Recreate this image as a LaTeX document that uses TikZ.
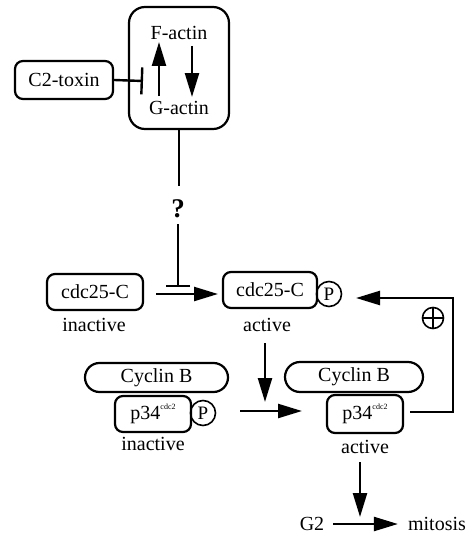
\documentclass[tikz,border=0pt]{standalone}
\usepackage{fontspec}
\setmainfont{Liberation Serif}
\usetikzlibrary{arrows.meta,shapes.misc}
\begin{document}
\begin{tikzpicture}[x=1pt,y=-1pt,
  every node/.style={font=\fontsize{20}{24}\selectfont, inner sep=0pt},
  box/.style={draw, line width=2.2pt, rounded corners=8pt},
  pill/.style={draw, line width=2.2pt, rounded rectangle},
  pcirc/.style={draw, circle, line width=1.6pt, minimum size=25pt, font=\fontsize{19}{20}\selectfont},
  conn/.style={line width=2.4pt},
  arr/.style={conn, -{Triangle[length=24pt,width=14pt]}},
  inh/.style={conn, -{Bar[width=#1]}},
]
\useasboundingbox (0,0) rectangle (472,535);
\newcommand{\pcdc}{p34\raisebox{1.1ex}{\fontsize{8}{9}\selectfont cdc2}}

% actin box
\node[box, rounded corners=16pt, minimum width=100pt, minimum height=122pt] (actin) at (179,68) {};
\node (factin) at (179,33) {F-actin};
\node (gactin) at (179,108) {G-actin};
\coordinate (ua1) at (159,96);
\coordinate (ua2) at (159,42);
\coordinate (da1) at (192,46);
\coordinate (da2) at (192,97);
\draw[arr] (ua1) -- (ua2);
\draw[arr] (da1) -- (da2);

% C2-toxin
\node[box, minimum width=98pt, minimum height=38pt] (c2) at (64,80) {C2-toxin};
\coordinate (c2bar) at (143,81);
\draw[inh=27pt] (c2.east) -- (c2bar);

% question mark
\node[font=\fontsize{27}{28}\bfseries\selectfont] (q) at (178,209) {?};
\draw[conn] (actin.south) -- ++(0,56) coordinate (qtop);
\coordinate (qs) at (178,224);
\coordinate (qbar) at (178,287);
\draw[inh=24pt] (qs) -- (qbar);

% cdc25-C
\node[box, minimum width=96pt, minimum height=36pt] (cdcin) at (95,292) {cdc25-C};
\node (cdcinl) at (94,325) {inactive};
\node[box, minimum width=94pt, minimum height=36pt] (cdcact) at (270,290) {cdc25-C};
\node[pcirc] (p1) at (329,294) {P};
\node (cdcactl) at (267,325) {active};
\coordinate (h1s) at (156,294);
\coordinate (h1e) at (218,294);
\draw[arr] (h1s) -- (h1e);

% down arrow to complex
\coordinate (v1s) at (265,343);
\coordinate (v1e) at (265,402);
\draw[arr] (v1s) -- (v1e);

% inactive complex
\node[pill, minimum width=143pt, minimum height=29pt] (cycin) at (156.5,377.5) {Cyclin B};
\node[box, minimum width=76pt, minimum height=36pt] (p34in) at (153,414) {\pcdc};
\node[pcirc] (p2) at (203,413) {P};
\node (p34inl) at (153,444) {inactive};

\coordinate (h2s) at (240,411);
\coordinate (h2e) at (302,411);
\draw[arr] (h2s) -- (h2e);

% active complex
\node[pill, minimum width=138pt, minimum height=30pt] (cycact) at (354,377) {Cyclin B};
\node[box, minimum width=76pt, minimum height=38pt] (p34act) at (365,414) {\pcdc};
\node (p34actl) at (365,447) {active};

% feedback
\coordinate (fb1) at (410,412);
\coordinate (fbc) at (453,298);
\coordinate (fb2) at (356,298);
\draw[arr] (fb1) -| (fbc) -- (fb2);
\node[draw, circle, line width=1.6pt, minimum size=21pt] (plus) at (433,318) {};
\draw[line width=1.6pt] (plus.north) -- (plus.south) (plus.west) -- (plus.east);

% to mitosis
\coordinate (v2s) at (360,462);
\coordinate (v2e) at (360,517);
\draw[arr] (v2s) -- (v2e);
\node (g2) at (312,524) {G2};
\node (mit) at (437,524) {mitosis};
\draw[arr, shorten <=9pt, shorten >=10pt] (g2) -- (mit);
\end{tikzpicture}
\end{document}
